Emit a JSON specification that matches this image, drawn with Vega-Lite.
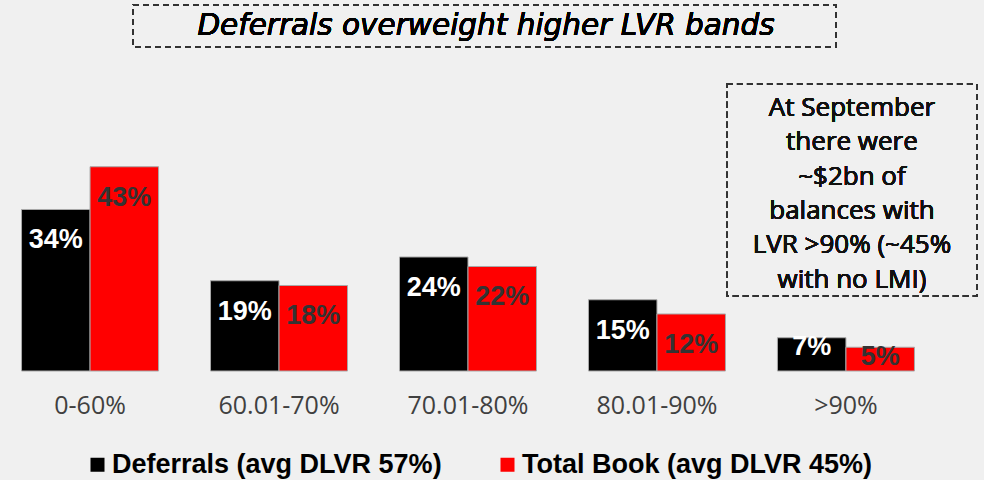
{
  "$schema": "https://vega.github.io/schema/vega-lite/v6.json",
  "autosize": {"type": "none"},
  "width": 936,
  "height": 371,
  "padding": {"left": 0, "top": 0, "right": 48, "bottom": 109},
  "background": "#f0f0f0",
  "config": {"view": {"stroke": null}},
  "data": {
    "values": [
      {"band": "0-60%", "series": "Deferrals (avg DLVR 57%)", "value": 34},
      {"band": "0-60%", "series": "Total Book (avg DLVR 45%)", "value": 43},
      {"band": "60.01-70%", "series": "Deferrals (avg DLVR 57%)", "value": 19},
      {"band": "60.01-70%", "series": "Total Book (avg DLVR 45%)", "value": 18},
      {"band": "70.01-80%", "series": "Deferrals (avg DLVR 57%)", "value": 24},
      {"band": "70.01-80%", "series": "Total Book (avg DLVR 45%)", "value": 22},
      {"band": "80.01-90%", "series": "Deferrals (avg DLVR 57%)", "value": 15},
      {"band": "80.01-90%", "series": "Total Book (avg DLVR 45%)", "value": 12},
      {"band": ">90%", "series": "Deferrals (avg DLVR 57%)", "value": 7},
      {"band": ">90%", "series": "Total Book (avg DLVR 45%)", "value": 5}
    ]
  },
  "layer": [
    {
      "mark": {"type": "bar", "stroke": "#a8a8a8", "strokeWidth": 1},
      "encoding": {
        "x": {
          "field": "band", "type": "nominal", "sort": null,
          "scale": {"paddingInner": 0.275, "paddingOuter": 0.114},
          "axis": {"title": null, "labelAngle": 0, "domain": false, "ticks": false, "tickSize": 0, "grid": false,
                   "labelFont": "Open Sans", "labelFontSize": 25, "labelColor": "#404040", "labelPadding": 22}
        },
        "xOffset": {"field": "series", "type": "nominal"},
        "y": {"field": "value", "type": "quantitative", "scale": {"domain": [0, 78.1], "nice": false}, "axis": null},
        "color": {
          "field": "series", "type": "nominal",
          "scale": {"domain": ["Deferrals (avg DLVR 57%)", "Total Book (avg DLVR 45%)"], "range": ["#000000", "#ff0000"]},
          "legend": {
            "title": null, "orient": "none", "legendX": 84, "legendY": 451, "direction": "horizontal",
            "symbolType": "square", "symbolSize": 196, "symbolStrokeWidth": 0, "symbolOpacity": 1,
            "labelFont": "Liberation Sans", "labelFontWeight": "bold", "labelFontSize": 27, "labelColor": "#000000",
            "labelOffset": 1, "columnPadding": 52, "labelLimit": 500
          }
        }
      }
    },
    {
      "transform": [
        {"calculate": "datum.value < 10 ? datum.value + 4.5 : datum.value", "as": "labelPos"},
        {"calculate": "datum.value + '%'", "as": "label"}
      ],
      "mark": {"type": "text", "font": "Liberation Sans", "fontWeight": "bold", "fontSize": 27, "baseline": "middle", "dy": 31},
      "encoding": {
        "x": {"field": "band", "type": "nominal", "sort": null},
        "xOffset": {"field": "series", "type": "nominal"},
        "y": {"field": "labelPos", "type": "quantitative"},
        "text": {"field": "label"},
        "fill": {"condition": {"test": "datum.series === 'Deferrals (avg DLVR 57%)'", "value": "#ffffff"}, "value": "#333333"}
      }
    },
    {
      "mark": {"type": "bar", "width": 250, "xOffset": 6, "fill": "transparent", "stroke": "#333333", "strokeWidth": 1.5, "strokeDash": [6, 4]},
      "encoding": {
        "x": {"datum": ">90%", "type": "nominal"},
        "y": {"datum": 15.8, "type": "quantitative"},
        "y2": {"datum": 60.4}
      }
    },
    {
      "mark": {"type": "text", "font": "Open Sans", "fontSize": 26, "lineHeight": 34.4, "align": "center", "baseline": "middle", "dx": 6, "color": "#111111",
               "text": ["At September", "there were", "~$2bn of", "balances with", "LVR >90% (~45%", "with no LMI)"]},
      "encoding": {
        "x": {"datum": ">90%", "type": "nominal"},
        "y": {"datum": 55.4, "type": "quantitative"}
      }
    },
    {
      "mark": {"type": "bar", "width": 703, "xOffset": 16.5, "fill": "transparent", "stroke": "#333333", "strokeWidth": 1.5, "strokeDash": [6, 4]},
      "encoding": {
        "x": {"datum": "70.01-80%", "type": "nominal"},
        "y": {"datum": 68.2, "type": "quantitative"},
        "y2": {"datum": 77.05}
      }
    },
    {
      "mark": {"type": "text", "font": "DejaVu Sans", "fontStyle": "italic", "fontSize": 29.5, "align": "center", "baseline": "middle", "dx": 18, "color": "#000000",
               "text": "Deferrals overweight higher LVR bands"},
      "encoding": {
        "x": {"datum": "70.01-80%", "type": "nominal"},
        "y": {"datum": 72.6, "type": "quantitative"}
      }
    }
  ]
}
